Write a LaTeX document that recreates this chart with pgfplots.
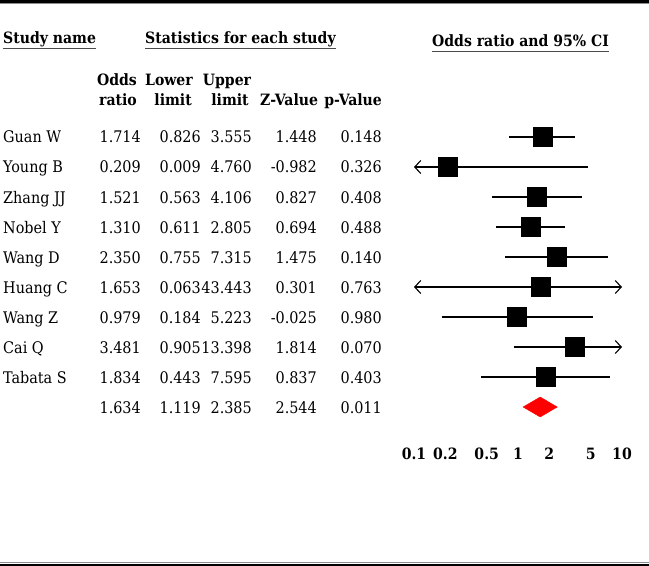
\documentclass[border=0pt]{standalone}
\usepackage{fontspec}
\setmainfont{DejaVu Serif Condensed}
\usepackage{pgfplots}
\pgfplotsset{compat=1.18}
\usetikzlibrary{arrows.meta}
\definecolor{ruleGray}{HTML}{8C8C8C}
\definecolor{ulGray}{HTML}{4A4A4A}
\tikzset{barb/.tip={Straight Barb[length=6bp,width=13bp,line width=1.1bp]}}

\begin{document}
\begin{tikzpicture}[x=1bp,y=1bp,font=\fontsize{16bp}{19bp}\selectfont]
\path[use as bounding box] (0,0) rectangle (649,-566);
% frame rules
\draw[line width=3bp] (0,-1.5) -- (649,-1.5);
\draw[ruleGray, line width=1bp] (0,-3.8) -- (649,-3.8);
\draw[ruleGray, line width=1bp] (0,-562.6) -- (649,-562.6);
\draw[line width=2bp] (0,-564.8) -- (649,-564.8);

% column group headers
\begin{scope}[every node/.style={inner sep=0, font=\fontsize{15.6bp}{19bp}\selectfont\bfseries}]
\node[anchor=base west] (h1) at (3,-44) {Study name};
\node[anchor=base west] (h2) at (145,-44) {Statistics for each study};
\node[anchor=base west] (h3) at (432,-47) {Odds ratio and 95\% CI};
\node[anchor=base east] at (137,-86) {Odds};
\node[anchor=base east] at (137,-106) {ratio};
\node[anchor=base east] at (193,-86) {Lower};
\node[anchor=base east] at (192,-106) {limit};
\node[anchor=base] at (227,-86) {Upper};
\node[anchor=base] at (230,-106) {limit};
\node[anchor=base] at (289,-106) {Z-Value};
\node[anchor=base east] at (382,-106) {p-Value};
\end{scope}
\draw[ulGray, line width=1.5bp] ([yshift=-4.5bp]h1.base west) -- ([yshift=-4.5bp]h1.base east);
\draw[ulGray, line width=1.5bp] ([yshift=-4.5bp]h2.base west) -- ([yshift=-4.5bp]h2.base east);
\draw[ulGray, line width=1.5bp] ([yshift=-4.5bp]h3.base west) -- ([yshift=-4.5bp]h3.base east);

% study rows (text columns)
\foreach \n/\o/\l/\u/\z/\p [count=\i] in {
  Guan W/1.714/0.826/3.555/1.448/0.148,
  Young B/0.209/0.009/4.760/-0.982/0.326,
  Zhang JJ/1.521/0.563/4.106/0.827/0.408,
  Nobel Y/1.310/0.611/2.805/0.694/0.488,
  Wang D/2.350/0.755/7.315/1.475/0.140,
  Huang C/1.653/0.063/43.443/0.301/0.763,
  Wang Z/0.979/0.184/5.223/-0.025/0.980,
  Cai Q/3.481/0.905/13.398/1.814/0.070,
  Tabata S/1.834/0.443/7.595/0.837/0.403,
  {}/1.634/1.119/2.385/2.544/0.011}{
  \pgfmathsetmacro\yb{-143-30*(\i-1)}
  \begin{scope}[every node/.style={inner sep=0}]
  \node[anchor=base west] at (3,\yb) {\n};
  \node[anchor=base east] at (141,\yb) {\o};
  \node[anchor=base east] at (201,\yb) {\l};
  \node[anchor=base east] at (252,\yb) {\u};
  \node[anchor=base east] at (317,\yb) {\z};
  \node[anchor=base east] at (382,\yb) {\p};
  \end{scope}
}

\begin{axis}[
  at={(414bp,-422bp)}, anchor=south west,
  scale only axis, width=208bp, height=300bp,
  xmode=log, xmin=0.1, xmax=10,
  ymin=-10.5, ymax=-0.5,
  clip=false,
  axis line style={draw=none},
  tick style={draw=none},
  ytick=\empty,
  xtick={0.1,0.2,0.5,1,2,5,10},
  xticklabels={0.1,0.2,0.5,1,2,5,10},
  /pgf/number format/assume math mode=true,
  xticklabel style={anchor=base, yshift=-37bp, inner sep=0,
    font=\fontsize{15.6bp}{19bp}\selectfont\bfseries},
  ci thick/.style={black, line width=2.6bp},
  ci thin/.style={black, line width=1.8bp},
]
% confidence intervals (clipped at 0.1 and 10 with arrows)
\addplot[ci thick] coordinates {(0.826,-1) (3.555,-1)};
\addplot[ci thin, barb-] coordinates {(0.1,-2) (4.760,-2)};
\addplot[ci thick] coordinates {(0.563,-3) (4.106,-3)};
\addplot[ci thin] coordinates {(0.611,-4) (2.805,-4)};
\addplot[ci thick] coordinates {(0.755,-5) (7.315,-5)};
\addplot[ci thin, barb-barb] coordinates {(0.1,-6) (10,-6)};
\addplot[ci thick] coordinates {(0.184,-7) (5.223,-7)};
\addplot[ci thick, -barb] coordinates {(0.905,-8) (10,-8)};
\addplot[ci thin] coordinates {(0.443,-9) (7.595,-9)};
% point estimates
\addplot[only marks, mark=square*, mark size=9.5bp, black] coordinates {
  (1.714,-1) (0.209,-2) (1.521,-3) (1.310,-4) (2.350,-5)
  (1.653,-6) (0.979,-7) (3.481,-8) (1.834,-9)
};
% pooled estimate
\addplot[draw=red, fill=red] coordinates {
  (1.119,-10) (1.634,-9.667) (2.385,-10) (1.634,-10.333)
} -- cycle;
\end{axis}
\end{tikzpicture}
\end{document}
